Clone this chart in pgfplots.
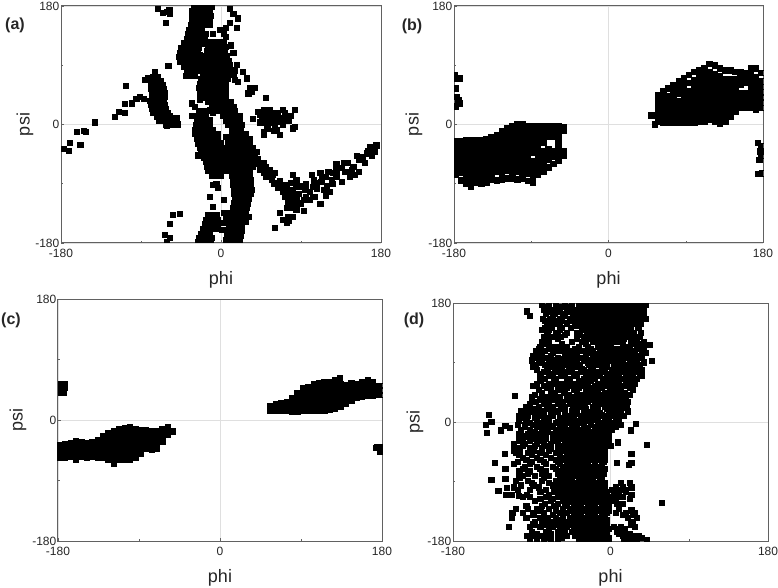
\documentclass[border=0pt]{standalone}
\usepackage{pgfplots}
\pgfplotsset{compat=1.18}
\usepackage{fontspec}
\setmainfont{Liberation Sans}
\definecolor{frameg}{gray}{0.38}
\definecolor{txtg}{gray}{0.15}
\pgfplotsset{rama/.style={
  scale only axis, anchor=south west,
  xmin=-180,xmax=180,ymin=-180,ymax=180,
  xtick={-180,0,180},ytick={-180,0,180},
  xticklabels={-180,0,180},yticklabels={-180,0,180},
  minor xtick={-90,90},minor ytick={-90,90},
  xtick pos=bottom,ytick pos=left,tick align=inside,
  major tick length=3pt,minor tick length=2pt,
  tick style={frameg,line width=0.5pt},
  axis line style={frameg,line width=1pt},
  clip marker paths=true,
  grid=major,grid style={gray!25,line width=0.5pt},
  tick label style={font=\fontsize{12}{14}\selectfont,text=txtg,inner sep=1.5pt},
  xticklabel style={yshift=-4pt},
  label style={font=\fontsize{18}{20}\selectfont,text=txtg},
  xlabel=phi,ylabel=psi,
  xlabel style={yshift=-9pt},
}, pts/.style={only marks,mark=square*,mark size=2.6pt,black,mark options={fill=black,draw=black,line width=0pt}}}
\begin{document}
\begin{tikzpicture}[x=1pt,y=1pt]
\path[use as bounding box] (0,0) rectangle (778,587);
\begin{axis}[rama,at={(61pt,344pt)},width=320pt,height=237pt,ylabel style={yshift=-3pt}]
\addplot[pts] coordinates {
(-30,178)(-25,178)(-20,178)(-15,178)(-10,178)
(-32,172)(-27,172)(-22,172)(-17,172)(-12,172)
(-32,165)(-27,165)(-22,165)(-17,165)(-11,165)
(-33,158)(-28,158)(-23,158)(-18,158)(-13,158)
(-34,151)(-29,151)(-24,151)(-19,151)(-13,151)
(-36,144)(-31,144)(-26,144)(-21,144)
(-37,137)(-32,137)(-27,137)(-22,137)(-17,137)
(-38,130)(-33,130)(-28,130)(-23,130)(-18,130)
(-42,123)(-37,123)(-32,123)(-27,123)(-22,123)
(-45,116)(-40,116)(-35,116)(-30,116)(-25,116)
(-46,109)(-41,109)(-36,109)(-31,109)(-26,109)
(-47,102)(-42,102)(-37,102)(-32,102)(-27,102)
(-46,95)(-41,95)(-36,95)(-31,95)(-26,95)
(-42,88)(-37,88)(-32,88)(-27,88)(-22,88)
(-38,81)(-33,81)(-28,81)(-24,81)(-39,74)(-33,74)(-29,74)
(-9,138)(-14,151)(-16,123)(-24,106)
(10,176)(14,168)(19,161)(10,154)(6,146)(-1,144)(3,138)(18,146)(6,133)
(-12,125)(-7,125)(-2,125)(3,125)
(-15,118)(-10,118)(-5,118)(0,118)(5,118)
(-16,111)(-11,111)(-6,111)(-1,111)(4,111)
(-18,104)(-13,104)(-8,104)(-3,104)(2,104)(7,104)
(-20,97)(-15,97)(-10,97)(-5,97)(0,97)(5,97)(9,97)
(-20,90)(-15,90)(-10,90)(-5,90)(0,90)(5,90)(10,90)
(-20,83)(-15,83)(-10,83)(-5,83)(0,83)(5,83)(10,83)
(-20,76)(-15,76)(-10,76)(-5,76)(0,76)(5,76)(8,76)
(-22,69)(-17,69)(-12,69)(-7,69)(-2,69)(3,69)(8,69)
(-24,62)(-19,62)(-14,62)(-9,62)(-4,62)(1,62)(6,62)
(-25,55)(-20,55)(-15,55)(-10,55)(-5,55)(0,55)(5,55)
(-24,48)(-19,48)(-14,48)(-9,48)(-4,48)(1,48)(6,48)
(-20,41)(-15,41)(-10,41)(-5,41)(0,41)(5,41)
(-14,34)(-9,34)(-4,34)(1,34)(6,34)(11,34)
(-10,27)(-5,27)(0,27)(5,27)(10,27)(14,27)
(-4,20)(1,20)(6,20)(11,20)(16,20)
(2,13)(7,13)(12,13)(17,13)(21,13)
(6,6)(11,6)(16,6)(21,6)
(8,-1)(13,-1)(18,-1)(23,-1)
(12,-8)(17,-8)(22,-8)
(13,-15)(18,-15)(23,-15)(28,-15)
(13,-22)(18,-22)(23,-22)(28,-22)(33,-22)
(12,-29)(17,-29)(22,-29)(27,-29)(32,-29)
(11,-36)(16,-36)(21,-36)(26,-36)(31,-36)(36,-36)
(10,-43)(15,-43)(20,-43)(25,-43)(30,-43)(35,-43)
(10,-50)(15,-50)(20,-50)(25,-50)(30,-50)(35,-50)
(11,-57)(16,-57)(21,-57)(26,-57)(31,-57)(36,-57)
(12,-64)(17,-64)(22,-64)(27,-64)(32,-64)(36,-64)
(12,-71)(17,-71)(22,-71)(27,-71)(32,-71)
(13,-78)(18,-78)(23,-78)(28,-78)(33,-78)
(14,-85)(19,-85)(24,-85)(29,-85)(34,-85)
(14,-92)(19,-92)(24,-92)(29,-92)(34,-92)
(15,-99)(20,-99)(25,-99)(30,-99)(35,-99)
(15,-106)(20,-106)(25,-106)(30,-106)(34,-106)
(16,-113)(21,-113)(26,-113)(31,-113)
(15,-120)(20,-120)(25,-120)(30,-120)
(14,-127)(19,-127)(24,-127)(29,-127)
(13,-134)(18,-134)(23,-134)(28,-134)
(12,-141)(17,-141)(22,-141)(27,-141)(31,-141)
(10,-148)(15,-148)(20,-148)(25,-148)(28,-148)
(9,-155)(14,-155)(19,-155)(24,-155)
(8,-162)(13,-162)(18,-162)(23,-162)
(7,-169)(12,-169)(17,-169)(22,-169)
(6,-176)(11,-176)(16,-176)(21,-176)
(-25,20)(-20,20)(-16,20)
(-27,13)(-22,13)(-17,13)(-12,6)(-27,6)(-22,6)(-17,6)
(-28,-1)(-23,-1)(-18,-1)(-13,-1)
(-29,-8)(-24,-8)(-19,-8)(-14,-8)(-9,-8)
(-29,-15)(-24,-15)(-19,-15)(-14,-15)(-9,-15)(-4,-15)
(-27,-22)(-22,-22)(-17,-22)(-12,-22)(-7,-22)(-3,-22)
(-26,-29)(-21,-29)(-16,-29)(-11,-29)(-6,-29)(0,-29)
(-24,-36)(-19,-36)(-14,-36)(-9,-36)(-4,-36)(1,-36)
(-22,-43)(-17,-43)(-12,-43)(-7,-43)(-2,-43)(3,-43)
(-19,-50)(-14,-50)(-9,-50)(-4,-50)(1,-50)(5,-50)
(-17,-57)(-12,-57)(-7,-57)(-2,-57)(3,-57)(6,-57)
(-16,-64)(-11,-64)(-6,-64)(-1,-64)(4,-64)(7,-64)
(-14,-71)(-9,-71)(-4,-71)(1,-71)(5,-71)
(-10,-78)(-5,-78)(0,-78)(-26,-47)
(-9,-92)(-3,-97)(-5,-90)(-12,-110)(3,-115)(-9,-125)
(-14,-138)(-9,-138)(-5,-138)
(-17,-145)(-12,-145)(-7,-145)(-3,-145)
(-18,-152)(-13,-152)(-8,-152)(-4,-152)
(-20,-159)(-15,-159)(-10,-159)(-6,-159)
(-22,-166)(-17,-166)(-12,-166)
(-25,-173)(-20,-173)(-15,-173)(-10,-173)
(-26,-179)(-21,-179)(-16,-179)(-11,-179)
(3,-135)(6,-142)(4,-150)(3,-160)(9,-168)(1,-160)(8,-173)(5,-135)
(6,-19)(8,-29)(6,-39)(10,-52)(-9,17)(-12,22)(-33,32)(-29,27)(-32,13)(-24,38)
(36,-39)(42,-52)(48,-59)(51,-64)(55,-69)(44,-69)(48,-74)(51,-79)(57,-84)(61,-74)
(63,-89)(68,-94)(70,-102)(76,-105)(81,-110)(78,-115)(83,-120)(88,-105)(91,-94)(85,-84)
(81,-77)(79,-89)(93,-115)(96,-110)(100,-102)(106,-110)(112,-121)(102,-77)(108,-89)(113,-87)
(119,-94)(123,-102)(112,-74)(121,-72)(126,-74)(130,-79)(136,-87)(130,-69)(138,-59)(143,-59)
(149,-64)(155,-72)(145,-79)(151,-77)(155,-54)(153,-48)(162,-59)(164,-44)(168,-34)(171,-37)
(175,-32)(170,-47)(173,-42)(158,-53)(64,-97)(72,-110)(76,-99)(81,-99)(85,-112)
(85,-130)(93,-131)(74,-127)(79,-127)(40,-60)(44,-62)(58,-76)(60,-90)(66,-86)(74,-92)(78,-108)(88,-95)(84,-92)(104,-95)(116,-100)(108,-98)(114,-80)
(130,-60)(136,-66)(125,-85)(118,-80)(105,-85)(96,-90)(100,-115)(90,-120)(72,-92)(95,-100)(56,-78)(52,-72)(46,-65)(104,-110)(118,-108)(126,-90)(140,-72)(147,-70)(160,-50)(166,-40)(38,-48)(40,-42)(46,-58)(53,-80)(84,-106)(76,-118)
(66,-135)(70,-145)(76,-147)(81,-140)(76,-140)(61,-157)(74,-150)
(42,19)(48,22)(55,22)(61,17)(70,22)(83,22)(51,12)(57,9)(63,12)(68,9)(74,12)(79,13)(36,8)(46,7)(50,2)(55,2)(61,-1)(66,4)(48,-11)(53,-6)(63,-9)(66,-16)(83,-4)(81,-6)(48,-16)(59,6)(64,17)(44,14)
(46,17)(52,17)(58,15)(72,17)(76,6)(70,0)(52,-2)(44,3)(60,-10)(74,5)
(-76,72)(-71,72)(-78,66)(-73,66)(-68,66)
(-79,60)(-74,60)(-69,60)(-65,60)
(-79,54)(-74,54)(-69,54)(-64,54)
(-78,48)(-73,48)(-68,48)(-63,48)
(-78,42)(-73,42)(-68,42)(-63,42)
(-80,36)(-75,36)(-70,36)(-64,36)
(-79,30)(-74,30)(-69,30)(-63,30)
(-78,24)(-73,24)(-68,24)(-62,24)
(-76,18)(-71,18)(-66,18)(-60,18)
(-72,12)(-67,12)(-62,12)(-57,12)
(-70,6)(-65,6)(-60,6)(-55,6)(-50,6)
(-62,0)(-58,0)(-52,0)(-48,0)(-50,10)(-61,-2)(-54,4)
(-74,80)(-82,70)(-85,67)
(-59,89)(-91,42)(-95,39)(-87,39)(-100,32)(-108,31)(-107,58)(-115,19)(-119,11)(-108,17)
(-142,3)(-154,-10)(-152,-12)(-162,-11)(-170,-28)(-158,-31)(-171,-40)(-177,-37)
(-71,175)(-58,174)(-65,169)(-57,168)(-62,154)(-61,171)
(-54,-138)(-46,-136)(-57,-151)(-63,-168)(-57,-173)(-61,-178)
(14,108)(18,90)(16,82)(25,80)(14,75)(19,65)(29,70)(33,56)(38,56)(35,50)(31,47)(51,40)(16,67)(11,120)
};
\end{axis}
\begin{axis}[rama,at={(454pt,344pt)},width=309pt,height=237pt,ylabel style={yshift=1pt}]
\addplot[pts,mark size=2.8pt] coordinates {
(-178,-26)(-178,-34)(-178,-42)(-178,-50)(-178,-58)(-178,-66)(-178,-76)
(-172,-25)(-172,-33)(-172,-41)(-172,-49)(-172,-57)(-172,-65)(-172,-73)(-172,-85)
(-166,-24)(-166,-32)(-166,-40)(-166,-48)(-166,-56)(-166,-64)(-166,-72)(-166,-80)(-166,-90)
(-160,-24)(-160,-32)(-160,-40)(-160,-48)(-160,-56)(-160,-64)(-160,-72)(-160,-80)(-160,-88)(-160,-94)
(-154,-24)(-154,-32)(-154,-40)(-154,-48)(-154,-56)(-154,-64)(-154,-72)(-154,-80)(-154,-88)
(-148,-24)(-148,-32)(-148,-40)(-148,-47)(-148,-56)(-148,-64)(-148,-72)(-148,-80)(-148,-90)
(-142,-23)(-142,-31)(-142,-39)(-142,-47)(-142,-55)(-142,-63)(-142,-71)(-142,-79)(-142,-88)
(-136,-20)(-136,-28)(-136,-36)(-136,-44)(-136,-52)(-136,-60)(-136,-68)(-136,-76)(-136,-84)
(-130,-16)(-130,-24)(-130,-32)(-130,-40)(-130,-48)(-130,-56)(-130,-64)(-130,-72)(-130,-85)
(-124,-10)(-124,-18)(-124,-26)(-124,-34)(-124,-42)(-124,-50)(-124,-58)(-124,-66)(-124,-74)(-124,-84)
(-118,-6)(-118,-14)(-118,-22)(-118,-30)(-118,-38)(-118,-46)(-118,-54)(-118,-62)(-118,-70)(-118,-82)
(-112,-3)(-112,-11)(-112,-19)(-112,-27)(-112,-35)(-112,-43)(-112,-51)(-112,-59)(-112,-67)(-112,-75)(-112,-82)
(-106,0)(-106,-8)(-106,-16)(-106,-24)(-106,-32)(-106,-40)(-106,-48)(-106,-56)(-106,-64)(-106,-72)(-106,-84)
(-100,0)(-100,-8)(-100,-16)(-100,-24)(-100,-32)(-100,-40)(-100,-50)(-100,-58)(-100,-66)(-100,-74)(-100,-82)
(-94,-2)(-94,-10)(-94,-18)(-94,-26)(-94,-34)(-94,-42)(-94,-50)(-94,-58)(-94,-66)(-94,-74)(-94,-86)
(-88,-3)(-88,-11)(-88,-19)(-88,-27)(-88,-35)(-88,-43)(-88,-56)(-88,-64)(-88,-72)(-88,-80)(-88,-88)
(-82,-3)(-82,-11)(-82,-19)(-82,-27)(-82,-35)(-82,-43)(-82,-51)(-82,-59)(-82,-67)(-82,-76)
(-76,-3)(-76,-11)(-76,-19)(-76,-27)(-76,-40)(-76,-48)(-76,-56)(-76,-64)(-76,-72)
(-70,-3)(-70,-11)(-70,-19)(-70,-38)(-70,-46)(-70,-54)(-70,-65)
(-64,-3)(-64,-11)(-64,-19)(-64,-41)(-64,-49)(-64,-60)
(-58,-2)(-58,-10)(-58,-18)(-58,-28)(-58,-38)(-58,-46)(-58,-55)
(-52,-4)(-52,-10)(-52,-40)(-52,-48)
(50,14)(54,0)(54,14)
(58,5)(58,13)(58,21)(58,29)(58,37)(58,45)
(64,3)(64,11)(64,19)(64,27)(64,35)(64,43)(64,50)
(70,3)(70,11)(70,19)(70,27)(70,35)(70,43)(70,55)
(76,3)(76,11)(76,19)(76,27)(76,35)(76,43)(76,51)(76,60)
(82,3)(82,11)(82,19)(82,27)(82,35)(82,47)(82,55)(82,65)
(88,3)(88,11)(88,19)(88,27)(88,35)(88,43)(88,51)(88,59)(88,70)
(94,3)(94,11)(94,19)(94,27)(94,35)(94,43)(94,51)(94,63)(94,75)
(100,3)(100,11)(100,19)(100,27)(100,35)(100,43)(100,51)(100,59)(100,67)(100,80)
(106,5)(106,13)(106,21)(106,29)(106,37)(106,45)(106,53)(106,61)(106,69)(106,76)(106,82)
(112,5)(112,13)(112,21)(112,29)(112,37)(112,45)(112,53)(112,61)(112,69)(112,77)(112,85)
(118,8)(118,16)(118,24)(118,32)(118,40)(118,48)(118,56)(118,64)(118,72)(118,80)(118,92)
(124,5)(124,13)(124,21)(124,29)(124,37)(124,45)(124,53)(124,61)(124,69)(124,77)(124,90)
(130,1)(130,9)(130,17)(130,25)(130,33)(130,41)(130,49)(130,57)(130,65)(130,73)(130,85)
(136,5)(136,13)(136,21)(136,29)(136,37)(136,45)(136,53)(136,61)(136,69)(136,82)
(142,12)(142,20)(142,28)(142,36)(142,44)(142,52)(142,60)(142,68)(142,82)
(148,20)(148,28)(148,36)(148,44)(148,52)(148,60)(148,68)(148,80)
(154,25)(154,33)(154,41)(154,47)(154,60)(154,70)(154,80)
(160,25)(160,33)(160,41)(160,47)(160,64)(160,72)(160,78)
(166,25)(166,33)(166,41)(166,49)(166,57)(166,65)(166,75)(166,85)
(172,22)(172,30)(172,38)(172,46)(172,56)(172,64)(172,72)(172,85)
(178,25)(178,33)(178,41)(178,49)(178,57)(178,65)(178,78)
(-177,70)(-173,70)(-178,55)(-175,37)(-173,32)(-178,27)(-177,42)(-179,75)
(174,-28)(178,-33)(178,-48)(176,-54)(175,-75)(179,-74)(177,-41)
};
\end{axis}
\begin{axis}[rama,at={(58pt,46pt)},width=324pt,height=242pt,ylabel style={yshift=1pt}]
\addplot[pts] coordinates {
(-178,-37)(-178,-44)(-178,-51)(-178,-56)
(-172,-36)(-172,-43)(-172,-50)(-172,-57)
(-166,-34)(-166,-41)(-166,-48)(-166,-55)
(-160,-32)(-160,-40)(-160,-47)(-160,-54)(-160,-60)
(-154,-33)(-154,-40)(-154,-47)(-154,-55)
(-148,-34)(-148,-41)(-148,-48)(-148,-56)
(-142,-33)(-142,-40)(-142,-47)(-142,-55)
(-136,-30)(-136,-37)(-136,-44)(-136,-51)(-136,-57)
(-130,-24)(-130,-31)(-130,-38)(-130,-45)(-130,-52)(-130,-57)
(-124,-20)(-124,-27)(-124,-34)(-124,-41)(-124,-48)(-124,-55)(-124,-60)
(-118,-16)(-118,-23)(-118,-30)(-118,-37)(-118,-44)(-118,-51)(-118,-58)(-118,-66)
(-112,-14)(-112,-21)(-112,-28)(-112,-35)(-112,-42)(-112,-49)(-112,-56)(-112,-60)
(-106,-12)(-106,-19)(-106,-26)(-106,-33)(-106,-40)(-106,-47)(-106,-54)(-106,-60)
(-100,-11)(-100,-18)(-100,-25)(-100,-32)(-100,-39)(-100,-46)(-100,-53)(-100,-59)
(-94,-13)(-94,-20)(-94,-27)(-94,-34)(-94,-41)(-94,-48)(-94,-56)
(-88,-15)(-88,-22)(-88,-29)(-88,-36)(-88,-43)(-88,-50)
(-82,-15)(-82,-22)(-82,-29)(-82,-36)(-82,-43)
(-76,-16)(-76,-23)(-76,-30)(-76,-37)(-76,-45)
(-70,-16)(-70,-23)(-70,-30)(-70,-37)(-70,-43)
(-64,-13)(-64,-20)(-64,-27)(-64,-33)
(-58,-11)(-58,-17)(-58,-22)(-52,-17)
(56,14)(56,20)(62,13)(62,19)(62,24)(68,13)(68,19)(68,25)
(74,13)(74,20)(74,27)(80,12)(80,19)(80,26)(80,33)
(86,12)(86,19)(86,26)(86,33)(86,40)
(92,13)(92,20)(92,27)(92,34)(92,41)(92,47)
(98,14)(98,21)(98,28)(98,35)(98,42)(98,49)
(104,14)(104,21)(104,28)(104,35)(104,42)(104,49)(104,54)
(110,14)(110,21)(110,28)(110,35)(110,42)(110,49)(110,55)
(116,14)(116,21)(116,28)(116,35)(116,42)(116,49)(116,56)
(122,15)(122,22)(122,29)(122,36)(122,43)(122,50)(122,57)
(128,17)(128,24)(128,31)(128,38)(128,45)(128,52)(128,60)
(134,19)(134,26)(134,33)(134,40)(134,47)(134,53)(133,62)
(140,24)(140,31)(140,38)(140,45)(140,52)
(146,29)(146,36)(146,43)(146,50)(146,55)
(152,33)(152,40)(152,47)(152,54)
(158,35)(158,42)(158,49)(158,56)
(164,36)(164,43)(164,50)(164,59)
(170,36)(170,43)(170,50)(170,56)
(176,37)(176,44)(176,51)
(180,37)(180,44)(180,51)
(-177,54)(-172,54)(-177,47)(-172,48)(-177,40)(-173,41)
(175,-41)(178,-40)(178,-47)(173,-42)
};
\end{axis}
\begin{axis}[rama,at={(453pt,46pt)},width=315pt,height=238pt,ylabel style={yshift=-1pt}]
\addplot[pts] coordinates {
(-95,167)(-92,160)(-139,10)(-142,-4)(-136,0)(-141,-17)(-125,-13)(-120,-6)(-115,-9)(29,-3)(23,-13)(42,-35)(9,-31)(24,-48)(7,-62)(21,-65)(24,-62)(59,-123)(15,9)(19,21)(45,117)(47,92)(-109,39)
(-121,-49)(-132,-62)(-120,-71)(-136,-88)(-120,-86)(-128,-104)(-118,-100)(-119,-110)(-113,-111)(-105,-112)(-92,-114)
(-78,177)(-70,177)(-62,177)(-52,177)(-44,177)(-36,177)(-30,177)(-25,177)(-20,177)(-15,177)(-10,177)(-5,177)(0,177)(5,177)(10,177)(15,177)(20,177)(25,177)(30,177)(36,177)(41,177)
(-76,170)(-66,170)(-58,170)(-48,170)(-40,170)(-28,170)(-23,170)(-18,170)(-13,170)(-8,170)(-3,170)(2,170)(7,170)(12,170)(17,170)(22,170)(27,170)(33,170)(38,170)
(-74,163)(-64,163)(-54,163)(-43,163)(-30,163)(-25,163)(-20,163)(-15,163)(-10,163)(-5,163)(0,163)(5,163)(10,163)(15,163)(20,163)(25,163)(31,163)(38,163)
(-77,156)(-69,156)(-58,156)(-46,156)(-35,156)(-28,156)(-23,156)(-18,156)(-13,156)(-8,156)(-3,156)(2,156)(7,156)(12,156)(17,156)(22,156)(27,156)(32,156)(40,156)
(-72,149)(-62,149)(-50,149)(-33,149)(-26,149)(-21,149)(-16,149)(-11,149)(-6,149)(-1,149)(4,149)(9,149)(14,149)(19,149)(24,149)(29,149)(35,149)
(-75,142)(-67,142)(-55,142)(-45,142)(-31,142)(-24,142)(-19,142)(-14,142)(-9,142)(-4,142)(1,142)(6,142)(11,142)(16,142)(23,142)(32,142)
(-72,135)(-62,135)(-50,135)(-38,135)(-27,135)(-22,135)(-17,135)(-12,135)(-7,135)(-2,135)(3,135)(8,135)(13,135)(20,135)(27,135)(35,135)
(-76,128)(-66,128)(-57,128)(-30,128)(-24,128)(-19,128)(-14,128)(-9,128)(-4,128)(1,128)(6,128)(11,128)(19,128)(25,128)(34,128)
(-78,121)(-70,121)(-44,121)(-32,121)(-20,121)(-15,121)(-10,121)(-5,121)(0,121)(5,121)(9,121)(24,121)(30,121)(38,121)
(-80,114)(-68,114)(-62,114)(-50,114)(-36,114)(-26,114)(-14,114)(-9,114)(-4,114)(1,114)(15,114)(22,114)(30,114)(38,114)
(-85,107)(-75,107)(-62,107)(-56,107)(-45,107)(-30,107)(-20,107)(-8,107)(-3,107)(3,107)(12,107)(18,107)(28,107)(36,107)
(-88,100)(-78,100)(-68,100)(-50,100)(-38,100)(-28,100)(-15,100)(-6,100)(0,100)(8,100)(16,100)(26,100)(32,100)
(-90,93)(-82,93)(-70,93)(-56,93)(-44,93)(-30,93)(-22,93)(-12,93)(-2,93)(5,93)(14,93)(22,93)(30,93)
(-85,86)(-75,86)(-62,86)(-50,86)(-35,86)(-25,86)(-15,86)(-5,86)(8,86)(16,86)(24,86)(34,86)
(-84,79)(-72,79)(-60,79)(-44,79)(-30,79)(-20,79)(-10,79)(2,79)(12,79)(20,79)(28,79)(36,79)
(-80,72)(-66,72)(-52,72)(-38,72)(-24,72)(-14,72)(-4,72)(8,72)(18,72)(26,72)(34,72)
(-75,65)(-62,65)(-46,65)(-30,65)(-18,65)(-8,65)(3,65)(14,65)(22,65)(30,65)
(-84,58)(-70,58)(-56,58)(-42,58)(-26,58)(-14,58)(-2,58)(10,58)(18,58)(28,58)
(-72,51)(-60,51)(-50,51)(-36,51)(-22,51)(-10,51)(2,51)(12,51)(22,51)
(-78,44)(-64,44)(-52,44)(-38,44)(-28,44)(-16,44)(-6,44)(6,44)(16,44)
(-90,37)(-72,37)(-58,37)(-44,37)(-32,37)(-18,37)(-10,37)(0,37)(10,37)(18,37)
(-85,30)(-70,30)(-54,30)(-40,30)(-26,30)(-12,30)(-4,30)(8,30)(20,30)
(-96,23)(-82,23)(-66,23)(-52,23)(-36,23)(-20,23)(-6,23)(4,23)(14,23)
(-102,16)(-90,16)(-76,16)(-60,16)(-44,16)(-30,16)(-16,16)(-2,16)(8,16)(20,16)
(-104,9)(-94,9)(-80,9)(-66,9)(-48,9)(-32,9)(-20,9)(-8,9)(4,9)(14,9)
(-105,2)(-96,2)(-84,2)(-70,2)(-54,2)(-40,2)(-28,2)(-14,2)(-2,2)(10,2)
(-106,-5)(-98,-5)(-88,-5)(-72,-5)(-58,-5)(-44,-5)(-30,-5)(-22,-5)(-12,-5)(0,-5)(12,-5)
(-102,-12)(-92,-12)(-78,-12)(-62,-12)(-48,-12)(-36,-12)(-26,-12)(-18,-12)(-8,-12)(2,-12)
(-104,-19)(-94,-19)(-82,-19)(-66,-19)(-52,-19)(-40,-19)(-32,-19)(-24,-19)(-16,-19)(-6,-19)
(-100,-26)(-88,-26)(-74,-26)(-58,-26)(-44,-26)(-36,-26)(-28,-26)(-20,-26)(-10,-26)(-3,-26)
(-110,-33)(-98,-33)(-84,-33)(-68,-33)(-52,-33)(-42,-33)(-34,-33)(-26,-33)(-18,-33)(-8,-33)
(-104,-40)(-92,-40)(-78,-40)(-60,-40)(-48,-40)(-40,-40)(-32,-40)(-24,-40)(-14,-40)(-6,-40)
(-108,-47)(-94,-47)(-80,-47)(-62,-47)(-50,-47)(-42,-47)(-34,-47)(-26,-47)(-16,-47)(-8,-47)
(-100,-54)(-84,-54)(-68,-54)(-54,-54)(-46,-54)(-38,-54)(-30,-54)(-22,-54)(-12,-54)
(-106,-61)(-90,-61)(-76,-61)(-60,-61)(-50,-61)(-42,-61)(-34,-61)(-26,-61)(-18,-61)(-8,-61)
(-98,-68)(-84,-68)(-66,-68)(-54,-68)(-46,-68)(-38,-68)(-30,-68)(-22,-68)(-14,-68)
(-104,-75)(-92,-75)(-74,-75)(-58,-75)(-50,-75)(-42,-75)(-34,-75)(-26,-75)(-18,-75)(-10,-75)
(-100,-82)(-86,-82)(-70,-82)(-56,-82)(-48,-82)(-40,-82)(-32,-82)(-24,-82)(-16,-82)
(-108,-89)(-94,-89)(-78,-89)(-62,-89)(-52,-89)(-44,-89)(-36,-89)(-28,-89)(-20,-89)(-12,-89)
(-102,-96)(-88,-96)(-66,-96)(-54,-96)(-46,-96)(-38,-96)(-30,-96)(-22,-96)(-14,-96)(-8,-96)
(-106,-103)(-92,-103)(-74,-103)(-58,-103)(-50,-103)(-42,-103)(-34,-103)(-26,-103)(-18,-103)(-10,-103)(2,-103)(8,-103)(16,-103)
(-95,-110)(-70,-110)(-56,-110)(-48,-110)(-40,-110)(-32,-110)(-24,-110)(-16,-110)(-8,-110)(4,-110)(10,-110)(24,-110)
(-80,-117)(-66,-117)(-52,-117)(-44,-117)(-36,-117)(-28,-117)(-20,-117)(-12,-117)(-4,-117)(6,-117)(22,-117)
(-75,-124)(-60,-124)(-50,-124)(-42,-124)(-34,-124)(-26,-124)(-18,-124)(-10,-124)(-2,-124)(8,-124)(14,-124)
(-108,-131)(-94,-131)(-84,-131)(-70,-131)(-54,-131)(-46,-131)(-38,-131)(-30,-131)(-22,-131)(-14,-131)(-6,-131)(-2,-131)(10,-131)
(-112,-138)(-100,-138)(-88,-138)(-76,-138)(-58,-138)(-50,-138)(-42,-138)(-34,-138)(-26,-138)(-18,-138)(-10,-138)(-4,-138)(6,-138)(18,-138)(28,-138)
(-113,-145)(-96,-145)(-80,-145)(-72,-145)(-62,-145)(-54,-145)(-46,-145)(-38,-145)(-30,-145)(-22,-145)(-14,-145)(-6,-145)(20,-145)(30,-145)
(-86,-152)(-78,-152)(-64,-152)(-56,-152)(-48,-152)(-40,-152)(-32,-152)(-24,-152)(-16,-152)(-8,-152)(26,-152)
(-116,-159)(-92,-159)(-80,-159)(-66,-159)(-58,-159)(-50,-159)(-42,-159)(-34,-159)(-26,-159)(-18,-159)(-10,-159)(4,-159)(12,-159)(28,-159)
(-90,-166)(-74,-166)(-60,-166)(-52,-166)(-44,-166)(-36,-166)(-28,-166)(-20,-166)(-12,-166)(-4,-166)(8,-166)(16,-166)
(-95,-173)(-88,-173)(-78,-173)(-60,-173)(-50,-173)(-40,-173)(-32,-173)(-24,-173)(-16,-173)(-8,-173)(14,-173)(24,-173)(32,-173)
(-92,-179)(-84,-179)(-76,-179)(-68,-179)(-60,-179)(-36,-179)(-30,-179)(-24,-179)(-18,-179)(-12,-179)(-6,-179)(16,-179)(24,-179)(30,-179)(42,-179)
(-40,-37)(-32,-37)(-24,-37)
(-46,-44)(-38,-44)(-30,-44)(-22,-44)
(-48,-51)(-40,-51)(-32,-51)(-24,-51)(-16,-51)
(-48,-58)(-40,-58)(-32,-58)(-24,-58)(-14,-58)
(-50,-65)(-42,-65)(-34,-65)(-26,-65)(-18,-65)
(-50,-72)(-42,-72)(-34,-72)(-26,-72)(-18,-72)(-10,-72)
(-52,-79)(-44,-79)(-36,-79)(-28,-79)(-20,-79)(-12,-79)
(-52,-86)(-44,-86)(-36,-86)(-28,-86)(-20,-86)(-12,-86)
(-50,-93)(-42,-93)(-34,-93)(-26,-93)(-18,-93)(-10,-93)
(-54,-100)(-46,-100)(-38,-100)(-30,-100)(-22,-100)(-14,-100)(-6,-100)
(-48,-107)(-40,-107)(-32,-107)(-24,-107)(-16,-107)(-8,-107)
(-50,-114)(-42,-114)(-34,-114)(-26,-114)(-18,-114)(-10,-114)(-4,-114)
(-46,-121)(-38,-121)(-30,-121)(-22,-121)(-14,-121)(-6,-121)
(-42,-128)(-34,-128)(-26,-128)(-18,-128)(-10,-128)(-4,-128)
(-46,-135)(-38,-135)(-30,-135)(-22,-135)(-14,-135)(-6,-135)
(-42,-142)(-34,-142)(-26,-142)(-18,-142)(-10,-142)
(-36,-149)(-28,-149)(-20,-149)(-12,-149)(-4,-149)
(-38,-156)(-30,-156)(-22,-156)(-14,-156)(-6,-156)
(-32,-163)(-24,-163)(-16,-163)(-8,-163)
(-28,-170)(-20,-170)(-12,-170)(-4,-170)
(-26,-177)(-18,-177)(-10,-177)(-2,-177)
(-72,174)(-55,174)(-47,174)(-33,174)(-70,167)(-60,167)(-50,167)(-35,167)
(-66,160)(-52,160)(-40,160)(-32,160)(-75,153)(-65,153)(-56,153)(-44,153)(-37,153)
(-69,146)(-58,146)(-40,146)(-78,139)(-70,139)(-58,139)(-33,139)
(-73,132)(-60,132)(-52,132)(-35,132)(-72,125)(-60,125)(-38,125)(-27,125)(15,125)(28,125)
(-75,118)(-55,118)(-28,118)(14,118)(26,118)(34,118)
(-82,111)(-70,111)(-56,111)(-40,111)(-22,111)(-2,111)(8,111)(18,111)(33,111)
(-80,104)(-66,104)(-52,104)(-38,104)(-24,104)(-12,104)(6,104)(24,104)(40,104)
(-84,97)(-74,97)(-60,97)(-44,97)(-34,97)(-20,97)(-8,97)(3,97)(12,97)(20,97)(36,97)
(-78,90)(-64,90)(-50,90)(-38,90)(-26,90)(-16,90)(-6,90)(10,90)(26,90)(38,90)
(-88,83)(-68,83)(-56,83)(-40,83)(-22,83)(-10,83)(4,83)(14,83)(30,83)
(-76,76)(-62,76)(-48,76)(-34,76)(-26,76)(-16,76)(-6,76)(6,76)(22,76)(32,76)
(-70,69)(-56,69)(-42,69)(-28,69)(-12,69)(0,69)(10,69)(24,69)(36,69)
(-80,62)(-64,62)(-50,62)(-36,62)(-22,62)(-4,62)(8,62)(18,62)(26,62)
(-88,55)(-76,55)(-60,55)(-44,55)(-30,55)(-18,55)(-6,55)(6,55)(16,55)(24,55)
(-82,48)(-68,48)(-56,48)(-42,48)(-28,48)(-14,48)(0,48)(8,48)(26,48)
(-86,41)(-68,41)(-48,41)(-34,41)(-22,41)(-12,41)(2,41)(12,41)(22,41)
(-80,34)(-64,34)(-50,34)(-36,34)(-24,34)(-14,34)(-2,34)(14,34)
(-92,27)(-76,27)(-60,27)(-46,27)(-32,27)(-18,27)(-8,27)(2,27)(12,27)(16,27)
(-88,20)(-72,20)(-56,20)(-42,20)(-28,20)(-14,20)(-4,20)(10,20)
(-96,13)(-84,13)(-68,13)(-52,13)(-38,13)(-24,13)(-12,13)(0,13)(12,13)
(-100,6)(-86,6)(-72,6)(-58,6)(-42,6)(-26,6)(-14,6)(-2,6)(8,6)
(-92,-1)(-78,-1)(-62,-1)(-48,-1)(-34,-1)(-22,-1)(-8,-1)(4,-1)
(-98,-8)(-84,-8)(-68,-8)(-54,-8)(-40,-8)(-30,-8)(-16,-8)(-4,-8)(6,-8)
(-86,-15)(-72,-15)(-58,-15)(-44,-15)(-30,-15)(-20,-15)(-10,-15)(-2,-15)
(-98,-22)(-88,-22)(-74,-22)(-60,-22)(-46,-22)(-36,-22)(-28,-22)(-12,-22)(-2,-22)
(-104,-29)(-92,-29)(-80,-29)(-64,-29)(-50,-29)(-40,-29)(-30,-29)(-22,-29)(-14,-29)(-4,-29)
(-100,-36)(-86,-36)(-72,-36)(-56,-36)(-44,-36)(-36,-36)(-28,-36)(-20,-36)(-10,-36)(0,-36)
(-110,-43)(-88,-43)(-70,-43)(-54,-43)(-44,-43)(-36,-43)(-28,-43)(-18,-43)(-10,-43)
(-104,-50)(-90,-50)(-74,-50)(-58,-50)(-44,-50)(-28,-50)(-20,-50)(-6,-50)
(-96,-57)(-80,-57)(-62,-57)(-56,-57)(-36,-57)(-26,-57)(-16,-57)(-6,-57)
(-110,-64)(-92,-64)(-74,-64)(-58,-64)(-48,-64)(-40,-64)(-28,-64)(-10,-64)
(-100,-71)(-80,-71)(-62,-71)(-52,-71)(-44,-71)(-30,-71)(-14,-71)(-6,-71)
(-94,-78)(-78,-78)(-60,-78)(-46,-78)(-38,-78)(-22,-78)(-8,-78)
(-104,-85)(-76,-85)(-58,-85)(-50,-85)(-34,-85)(-22,-85)(-10,-85)
(-90,-92)(-70,-92)(-56,-92)(-46,-92)(-32,-92)(-16,-92)(-6,-92)(12,-92)(22,-92)
(-110,-99)(-82,-99)(-60,-99)(-42,-99)(-26,-99)(-10,-99)(6,-99)(14,-99)(24,-99)
(-80,-106)(-64,-106)(-52,-106)(-44,-106)(-20,-106)(-4,-106)(6,-106)(18,-106)
(-100,-113)(-74,-113)(-60,-113)(-46,-113)(-28,-113)(-12,-113)(-2,-113)(8,-113)(14,-113)
(-86,-120)(-68,-120)(-54,-120)(-36,-120)(-20,-120)(-6,-120)(2,-120)
(-96,-127)(-78,-127)(-64,-127)(-52,-127)(-38,-127)(-22,-127)(-8,-127)
(-80,-134)(-62,-134)(-42,-134)(-26,-134)(-10,-134)(-2,-134)(24,-134)
(-88,-141)(-66,-141)(-54,-141)(-36,-141)(-20,-141)(-8,-141)(26,-141)(14,-141)
(-74,-148)(-58,-148)(-44,-148)(-26,-148)(-14,-148)(-6,-148)
(-88,-155)(-72,-155)(-60,-155)(-46,-155)(-28,-155)(-16,-155)(-4,-155)(24,-155)
(-70,-162)(-56,-162)(-40,-162)(-24,-162)(-14,-162)(-2,-162)(8,-162)(16,-162)
(-84,-169)(-68,-169)(-54,-169)(-38,-169)(-24,-169)(-14,-169)(-6,-169)(10,-169)(22,-169)
(-72,-176)(-56,-176)(-34,-176)(-22,-176)(-14,-176)(-2,-176)(20,-176)(30,-176)(36,-176)
(-59,109)(-47,103)(-33,108)(-17,103)(-65,94)(-53,95)(-41,99)(-25,91)(-11,97)(7,94)
(-63,81)(-47,85)(-33,80)(-19,88)(-4,83)(9,80)(24,84)(-55,75)(-41,70)(-29,63)(-19,73)(-9,62)(5,70)(15,76)
(-67,58)(-49,58)(-37,54)(-23,44)(-10,56)(3,60)(20,60)(-63,40)(-53,45)(-42,36)(-30,41)(-19,52)(-1,44)(9,41)
(-77,33)(-60,33)(-45,35)(-29,34)(-17,29)(-7,38)(5,33)(-73,24)(-57,22)(-43,26)(-29,22)(-16,23)(-3,26)(6,23)
(-81,15)(-66,16)(-52,8)(-39,18)(-25,15)(-10,11)(5,16)(-76,4)(-60,0)(-46,7)(-34,4)(-20,3)(-6,5)(6,2)
(-80,-5)(-66,-6)(-52,-4)(-38,-6)(-26,-9)(-10,-7)(3,-6)(-72,-13)(-56,-10)(-42,-14)(-24,-16)(-12,-11)(-3,-12)
(-76,-19)(-58,-18)(-46,-20)(-34,-23)(-20,-22)(-8,-19)(-66,-27)(-52,-26)(-40,-26)(-24,-30)(-12,-27)
(-76,-34)(-60,-33)(-48,-34)(-30,-35)(-14,-34)(-2,-30)(-68,-41)(-54,-40)(-44,-38)(-18,-39)(-10,-38)
};
\end{axis}
\node[font=\bfseries\fontsize{16}{18}\selectfont,text=txtg] at (15,562) {(a)};
\node[font=\bfseries\fontsize{16}{18}\selectfont,text=txtg] at (412,561) {(b)};
\node[font=\bfseries\fontsize{16}{18}\selectfont,text=txtg] at (11,267) {(c)};
\node[font=\bfseries\fontsize{16}{18}\selectfont,text=txtg] at (414,267) {(d)};
\end{tikzpicture}
\end{document}
